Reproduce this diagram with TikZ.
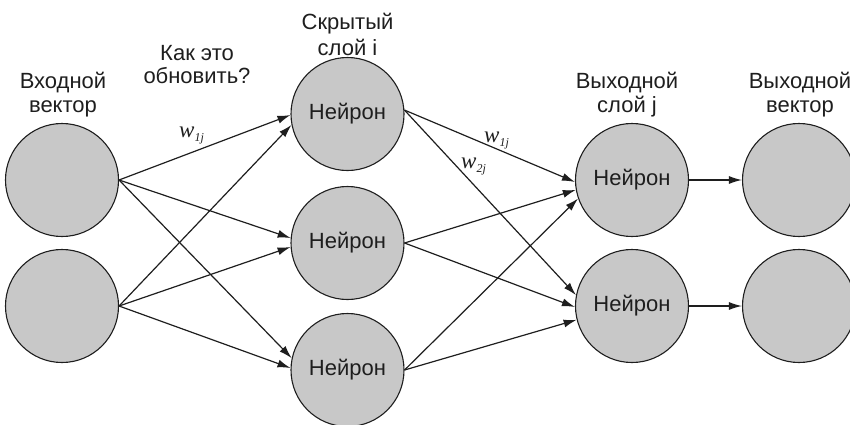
\documentclass[tikz,border=0pt]{standalone}
\usepackage{fontspec}
\setmainfont{Liberation Sans}
\newfontfamily\wfont{Liberation Serif}
\usetikzlibrary{arrows.meta}
\definecolor{cellfill}{RGB}{200,200,200}
\definecolor{ink}{RGB}{30,30,30}
\begin{document}
\begin{tikzpicture}[x=1pt,y=-1pt,
  cell/.style={circle, draw=ink, line width=1.1pt, fill=cellfill,
    minimum size=113pt, inner sep=0pt, text=ink,
    font=\fontsize{22}{24}\selectfont},
  lbl/.style={anchor=base, inner sep=0pt, text=ink,
    font=\fontsize{22}{24}\selectfont},
  wlbl/.style={anchor=base west, inner sep=0pt, text=ink,
    font=\wfont\itshape\fontsize{23}{23}\selectfont},
  arr/.style={draw=ink, line width=1.2pt, -{Latex[length=13pt,width=8pt]}}]
\useasboundingbox (0,0) rectangle (850,424);

% input vector
\node[cell] (i1) at (62,180) {};
\node[cell] (i2) at (62,306) {};
% hidden layer i
\node[cell] (h1) at (347.5,114) {Нейрон};
\node[cell] (h2) at (347.5,243) {Нейрон};
\node[cell] (h3) at (347.5,370) {Нейрон};
% output layer j
\node[cell] (o1) at (632,180) {Нейрон};
\node[cell] (o2) at (632,306) {Нейрон};
% output vector
\node[cell] (v1) at (799,180) {};
\node[cell] (v2) at (799,306) {};

% column headings
\node[lbl] (tin1) at (63,88) {Входной};
\node[lbl] (tin2) at (63,112) {вектор};
\node[lbl] (tq1) at (197,60) {Как это};
\node[lbl] (tq2) at (197,83) {обновить?};
\node[lbl] (th1) at (347.5,29) {Скрытый};
\node[lbl] (th2) at (347.5,55) {слой i};
\node[lbl] (to1) at (627,88) {Выходной};
\node[lbl] (to2) at (627,112) {слой j};
\node[lbl] (tv1) at (800,88) {Выходной};
\node[lbl] (tv2) at (800,112) {вектор};

% weights
\node[wlbl] (wa) at (179,137) {w\raisebox{-4pt}{\fontsize{12}{12}\selectfont 1j}};
\node[wlbl] (wb) at (484,142) {w\raisebox{-4pt}{\fontsize{12}{12}\selectfont 1j}};
\node[wlbl] (wc) at (461,168) {w\raisebox{-4pt}{\fontsize{12}{12}\selectfont 2j}};

% input -> hidden
\draw[arr] (i1.east) -- (h1.181);
\draw[arr] (i1.east) -- (h2.175);
\draw[arr] (i1.east) -- (h3.168);
\draw[arr] (i2.east) -- (h1.191);
\draw[arr] (i2.east) -- (h2.184);
\draw[arr] (i2.east) -- (h3.178);

% hidden -> output
\draw[arr] (h1.4) -- (o1.182);
\draw[arr] (h1.4) -- (o2.169);
\draw[arr] (h2.east) -- (o1.190);
\draw[arr] (h2.east) -- (o2.181);
\draw[arr] (h3.east) -- (o1.199);
\draw[arr] (h3.east) -- (o2.194);

% output -> output vector
\draw[arr] (o1.east) -- (v1.west);
\draw[arr] (o2.east) -- (v2.west);
\end{tikzpicture}
\end{document}
